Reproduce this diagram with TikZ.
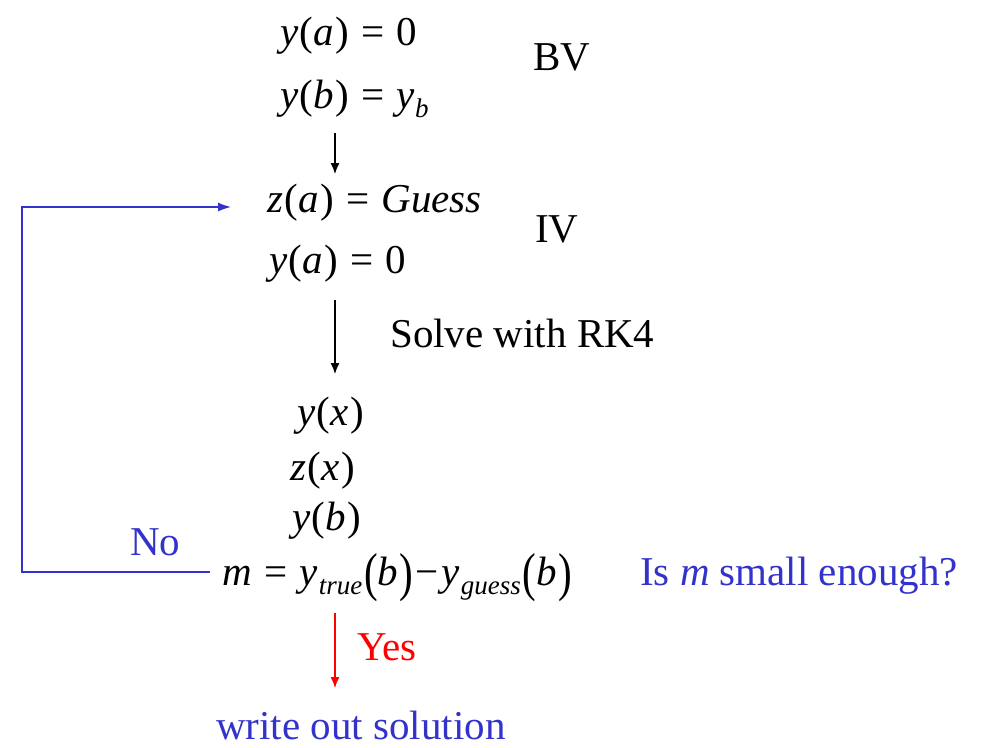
\documentclass[tikz,border=0pt]{standalone}
\usepackage{fontspec}
\setmainfont{Liberation Serif}
\usetikzlibrary{arrows.meta}
\definecolor{pblue}{RGB}{51,51,204}
\newcommand\subsc[1]{\raisebox{-9pt}{\fontsize{27}{27}\selectfont\textit{#1}}}
\newcommand\bigpar[1]{\raisebox{-5pt}{\scalebox{1}[1.3]{#1}}}
\newcommand\iv[1]{\textit{#1}\hspace{1.5pt}}
\newcommand\eq{\hspace{0.3em}=\hspace{0.3em}}
\begin{document}
\begin{tikzpicture}[x=1pt,y=-1pt,
  txt/.style={anchor=base west,inner sep=0pt,font=\fontsize{41}{41}\selectfont},
  arr/.style={-{Latex[length=11pt,width=9pt]},line width=1.3pt},
  blarr/.style={-{Latex[length=13pt,width=9pt]},line width=1.4pt,draw=pblue},
  redarr/.style={-{Latex[length=11pt,width=9pt]},line width=1.3pt,draw=red}]
\useasboundingbox (0,0) rectangle (981,747);
\node[txt] (bv1) at (280,45) {\iv{y}(\iv{a})\eq 0};
\node[txt] (bv2) at (280,108) {\iv{y}(\iv{b})\eq\textit{y}\subsc{b}};
\node[txt] (bvl) at (533,70) {BV};
\node[txt] (iv1) at (267,212) {\iv{z}(\iv{a})\eq\textit{Guess}};
\node[txt] (ivl) at (535,242) {IV};
\node[txt] (iv2) at (269,273) {\iv{y}(\iv{a})\eq 0};
\node[txt] (solve) at (390,347) {Solve with RK4};
\node[txt] (yx) at (297,425) {\iv{y}(\iv{x})};
\node[txt] (zx) at (290,480) {\iv{z}(\iv{x})};
\node[txt] (yb) at (292,530) {\iv{y}(\iv{b})};
\node[txt] (m) at (222,585) {\textit{m}\eq\textit{y}\hspace{1pt}\subsc{true}\hspace{2pt}\bigpar{(}\iv{b}\bigpar{)}\hspace{2pt}−\hspace{3pt}\textit{y}\hspace{1pt}\subsc{guess}\hspace{2pt}\bigpar{(}\iv{b}\bigpar{)}};
\node[txt,text=pblue] (q) at (640,585) {Is \textit{m} small enough?};
\node[txt,text=pblue] (no) at (130,555) {No};
\node[txt,text=red] (yes) at (357,660) {Yes};
\node[txt,text=pblue] (out) at (216,739) {write out solution};
\coordinate (a1s) at (335,133);
\coordinate (a1e) at (335,174);
\coordinate (a2s) at (335,300);
\coordinate (a2e) at (335,374);
\coordinate (a3s) at (335,613);
\coordinate (a3e) at (335,688);
\coordinate (lb) at (210,572);
\coordinate (lc) at (22,207);
\coordinate (lt) at (231,207);
\draw[arr] (a1s) -- (a1e);
\draw[arr] (a2s) -- (a2e);
\draw[redarr] (a3s) -- (a3e);
\draw[blarr] (lb) -| (lc) -- (lt);
\end{tikzpicture}
\end{document}
